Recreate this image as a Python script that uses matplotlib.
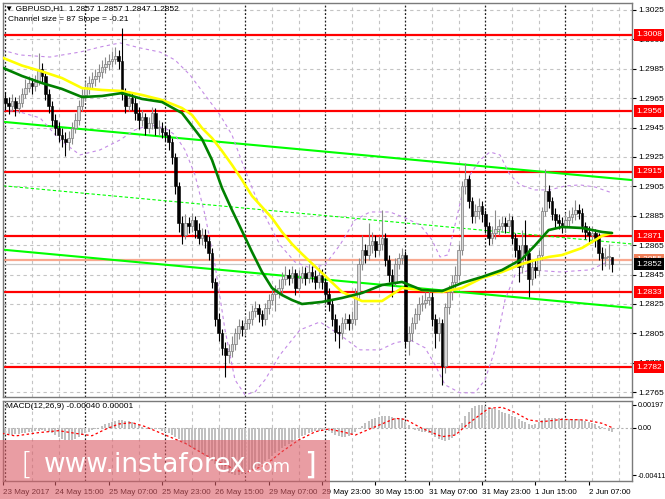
import numpy as np
import matplotlib
matplotlib.use("Agg")
import matplotlib.pyplot as plt
import matplotlib.transforms as mtrans
from matplotlib.patches import Rectangle

# ---------------- data ----------------
symbol_title = "\u25bc GBPUSD,H1  1.2857 1.2857 1.2847 1.2852"
channel_text = "Channel size = 87 Slope = -0.21"
macd_text = "MACD(12,26,9) -0.00040 0.00001"

open_first = 1.2960
close = [1.2965, 1.2962, 1.2960, 1.2963, 1.2958, 1.2962, 1.2968, 1.2972, 1.2975, 1.2973,
         1.2976, 1.2985, 1.2980, 1.2968, 1.2960, 1.2950, 1.2945, 1.2940, 1.2937, 1.2935,
         1.2938, 1.2945, 1.2950, 1.2960, 1.2967, 1.2972, 1.2975, 1.2978, 1.2980, 1.2983,
         1.2986, 1.2988, 1.2990, 1.2992, 1.2994, 1.2990, 1.2968, 1.2960, 1.2965, 1.2962,
         1.2955, 1.2950, 1.2952, 1.2945, 1.2948, 1.2955, 1.2945, 1.2945, 1.2942, 1.2940,
         1.2935, 1.2925, 1.2905, 1.2880, 1.2872, 1.2880, 1.2878, 1.2882, 1.2875, 1.2870,
         1.2872, 1.2868, 1.2860, 1.2840, 1.2815, 1.2805, 1.2795, 1.2790, 1.2793, 1.2798,
         1.2805, 1.2810, 1.2808, 1.2812, 1.2815, 1.2820, 1.2822, 1.2818, 1.2815, 1.2822,
         1.2828, 1.2832, 1.2833, 1.2836, 1.2842, 1.2845, 1.2843, 1.2846, 1.2836, 1.2843,
         1.2846, 1.2843, 1.2847, 1.2844, 1.2840, 1.2845, 1.2840, 1.2832, 1.2825, 1.2815,
         1.2806, 1.2805, 1.2812, 1.2815, 1.2812, 1.2815, 1.2832, 1.2852, 1.2862, 1.2858,
         1.2865, 1.2868, 1.2862, 1.2866, 1.2870, 1.2855, 1.2845, 1.2840, 1.2852, 1.2856,
         1.2858, 1.2800, 1.2805, 1.2812, 1.2818, 1.2825, 1.2826, 1.2828, 1.2830, 1.2815,
         1.2805, 1.2812, 1.2783, 1.2823, 1.2833, 1.2840, 1.2845, 1.2862, 1.2905, 1.2910,
         1.2895, 1.2885, 1.2888, 1.2892, 1.2886, 1.2878, 1.2870, 1.2873, 1.2876, 1.2878,
         1.2880, 1.2878, 1.2882, 1.2870, 1.2862, 1.2850, 1.2865, 1.2860, 1.2842, 1.2850,
         1.2848, 1.2858, 1.2888, 1.2902, 1.2895, 1.2886, 1.2882, 1.2880, 1.2878, 1.2882,
         1.2884, 1.2886, 1.2889, 1.2887, 1.2878, 1.2874, 1.2872, 1.2873, 1.2870, 1.2860,
         1.2856, 1.2857, 1.2857, 1.2852]
high = [1.2970, 1.2969, 1.2966, 1.2968, 1.2966, 1.2967, 1.2972, 1.2978, 1.2980, 1.2979,
        1.2981, 1.2996, 1.2989, 1.2983, 1.2971, 1.2963, 1.2954, 1.2949, 1.2945, 1.2942,
        1.2943, 1.2949, 1.2955, 1.2964, 1.2971, 1.2977, 1.2980, 1.2983, 1.2985, 1.2988,
        1.2991, 1.2993, 1.2995, 1.2997, 1.3000, 1.2998, 1.3013, 1.2972, 1.2970, 1.2969,
        1.2966, 1.2959, 1.2957, 1.2955, 1.2952, 1.2959, 1.2958, 1.2950, 1.2949, 1.2946,
        1.2944, 1.2938, 1.2928, 1.2908, 1.2885, 1.2886, 1.2884, 1.2887, 1.2885, 1.2880,
        1.2877, 1.2876, 1.2871, 1.2863, 1.2843, 1.2819, 1.2808, 1.2799, 1.2798, 1.2803,
        1.2809, 1.2815, 1.2814, 1.2817, 1.2820, 1.2824, 1.2827, 1.2825, 1.2821, 1.2826,
        1.2832, 1.2837, 1.2838, 1.2842, 1.2847, 1.2851, 1.2849, 1.2851, 1.2849, 1.2848,
        1.2851, 1.2850, 1.2852, 1.2851, 1.2848, 1.2850, 1.2849, 1.2843, 1.2836, 1.2828,
        1.2818, 1.2811, 1.2816, 1.2819, 1.2818, 1.2820, 1.2836, 1.2856, 1.2872, 1.2866,
        1.2880, 1.2874, 1.2872, 1.2871, 1.2889, 1.2873, 1.2858, 1.2849, 1.2856, 1.2860,
        1.2863, 1.2861, 1.2810, 1.2816, 1.2822, 1.2830, 1.2831, 1.2833, 1.2835, 1.2833,
        1.2818, 1.2816, 1.2815, 1.2826, 1.2838, 1.2845, 1.2851, 1.2866, 1.2909, 1.2921,
        1.2913, 1.2898, 1.2893, 1.2897, 1.2895, 1.2889, 1.2881, 1.2878, 1.2889, 1.2883,
        1.2885, 1.2884, 1.2887, 1.2885, 1.2873, 1.2865, 1.2875, 1.2882, 1.2863, 1.2854,
        1.2855, 1.2862, 1.2891, 1.2917, 1.2906, 1.2898, 1.2890, 1.2886, 1.2884, 1.2887,
        1.2889, 1.2891, 1.2896, 1.2893, 1.2890, 1.2881, 1.2878, 1.2878, 1.2876, 1.2873,
        1.2864, 1.2863, 1.2866, 1.2857]
low = [1.2955, 1.2957, 1.2954, 1.2956, 1.2953, 1.2955, 1.2959, 1.2965, 1.2969, 1.2968,
       1.2970, 1.2974, 1.2976, 1.2964, 1.2955, 1.2946, 1.2940, 1.2935, 1.2932, 1.2926,
       1.2930, 1.2934, 1.2941, 1.2947, 1.2956, 1.2963, 1.2968, 1.2971, 1.2973, 1.2976,
       1.2979, 1.2982, 1.2984, 1.2986, 1.2988, 1.2985, 1.2964, 1.2955, 1.2956, 1.2957,
       1.2950, 1.2944, 1.2946, 1.2940, 1.2941, 1.2944, 1.2940, 1.2940, 1.2938, 1.2936,
       1.2930, 1.2920, 1.2900, 1.2874, 1.2866, 1.2869, 1.2873, 1.2874, 1.2870, 1.2866,
       1.2865, 1.2863, 1.2855, 1.2836, 1.2810, 1.2800, 1.2790, 1.2775, 1.2785, 1.2789,
       1.2794, 1.2801, 1.2803, 1.2804, 1.2808, 1.2811, 1.2816, 1.2813, 1.2810, 1.2811,
       1.2818, 1.2824, 1.2820, 1.2829, 1.2832, 1.2838, 1.2838, 1.2839, 1.2831, 1.2833,
       1.2839, 1.2838, 1.2839, 1.2840, 1.2835, 1.2836, 1.2835, 1.2827, 1.2820, 1.2810,
       1.2800, 1.2795, 1.2801, 1.2808, 1.2807, 1.2808, 1.2811, 1.2828, 1.2848, 1.2853,
       1.2855, 1.2860, 1.2857, 1.2858, 1.2862, 1.2851, 1.2840, 1.2830, 1.2837, 1.2849,
       1.2852, 1.2796, 1.2790, 1.2800, 1.2808, 1.2814, 1.2820, 1.2822, 1.2824, 1.2810,
       1.2795, 1.2800, 1.2770, 1.2778, 1.2818, 1.2828, 1.2836, 1.2841, 1.2858, 1.2900,
       1.2890, 1.2880, 1.2880, 1.2883, 1.2881, 1.2873, 1.2865, 1.2866, 1.2869, 1.2872,
       1.2874, 1.2873, 1.2874, 1.2866, 1.2857, 1.2840, 1.2846, 1.2855, 1.2830, 1.2838,
       1.2843, 1.2845, 1.2855, 1.2885, 1.2890, 1.2882, 1.2877, 1.2876, 1.2873, 1.2874,
       1.2878, 1.2880, 1.2882, 1.2883, 1.2874, 1.2869, 1.2867, 1.2867, 1.2864, 1.2855,
       1.2848, 1.2851, 1.2849, 1.2847]

# moving averages (bar index -> price)
ma_bars = [0, 6, 12, 18, 24, 30, 36, 42, 48, 54, 57, 60, 63, 66, 69, 72, 75, 78, 81, 84,
           87, 90, 96, 102, 108, 114, 120, 126, 132, 138, 144, 150, 156, 160, 164, 168,
           174, 180, 183]
ma_green = [1.29859, 1.29801, 1.29753, 1.29713, 1.29658, 1.29665, 1.29685, 1.29645, 1.29624,
            1.29549, 1.29461, 1.29372, 1.29230, 1.29039, 1.28889, 1.28747, 1.28604, 1.28468,
            1.28359, 1.28311, 1.28277, 1.28250, 1.28264, 1.28291, 1.28325, 1.28379, 1.28400,
            1.28345, 1.28338, 1.28393, 1.28434, 1.28481, 1.28556, 1.28651, 1.28753, 1.28774,
            1.28767, 1.28740, 1.28733]
ma_yellow = [1.29927, 1.29872, 1.29832, 1.29787, 1.29719, 1.29706, 1.29699, 1.29672, 1.29638,
             1.29583, 1.29536, 1.29447, 1.29379, 1.29291, 1.29196, 1.29094, 1.28985, 1.28910,
             1.28835, 1.28740, 1.28658, 1.28590, 1.28461, 1.28332, 1.28270, 1.28270, 1.28359,
             1.28345, 1.28332, 1.28359, 1.28427, 1.28468, 1.28522, 1.28549, 1.28570, 1.28583,
             1.28631, 1.28713, 1.28733]

# Bollinger-type envelopes
bb_upper_bars = [0, 5.4, 14.4, 23.4, 29.4, 35.4, 41.4, 47.4, 51.9, 56.4, 60.9, 65.4, 69,
                 72.9, 75.9, 79.5, 83.4, 87.9, 92.4, 96.9, 101.4, 105.9, 110.4, 116.4,
                 120.9, 125.4, 129, 131.4, 133.8, 135.9, 138, 140.4, 143.4, 146.4, 149.4,
                 152.4, 155.4, 159.9, 164.4, 168.9, 173.4, 177.9, 183]
bb_upper = [1.29978, 1.29944, 1.29930, 1.29964, 1.29998, 1.30026, 1.29992, 1.29964, 1.29910,
            1.29808, 1.29672, 1.29536, 1.29400, 1.29162, 1.28992, 1.28822, 1.28652, 1.28536,
            1.28496, 1.28516, 1.28652, 1.28822, 1.28876, 1.28876, 1.28836, 1.28788, 1.28686,
            1.28570, 1.28584, 1.28788, 1.28992, 1.29128, 1.29230, 1.29284, 1.29264, 1.29128,
            1.29060, 1.29026, 1.29026, 1.29053, 1.29060, 1.29046, 1.29006]
bb_lower_bars = [0, 5.4, 11.4, 17.4, 23.4, 29.4, 35.4, 39.9, 44.4, 48.9, 51.9, 54.9, 57.9,
                 60.9, 63.9, 66.9, 69.9, 72.9, 75.9, 78.9, 83.4, 89.4, 95.4, 101.4, 107.4,
                 113.4, 117.9, 122.4, 126.9, 129.9, 132.9, 137.4, 141.9, 144.9, 147.9, 150.9,
                 153.9, 158.4, 167.4, 176.4, 183]
bb_lower = [1.29570, 1.29556, 1.29516, 1.29366, 1.29264, 1.29298, 1.29366, 1.29434, 1.29468,
            1.29448, 1.29400, 1.29298, 1.29128, 1.28856, 1.28516, 1.28074, 1.27734, 1.27632,
            1.27652, 1.27734, 1.27904, 1.28074, 1.28128, 1.28040, 1.27938, 1.27938, 1.27986,
            1.28006, 1.27952, 1.27836, 1.27700, 1.27646, 1.27646, 1.27734, 1.27938, 1.28278,
            1.28448, 1.28482, 1.28468, 1.28482, 1.28550]

# MACD(12,26,9) histogram (one value per bar) and signal line
macd_main = [-0.00050, -0.00055, -0.00058, -0.00060, -0.00058, -0.00055, -0.00050, -0.00045, -0.00040,
             -0.00035, -0.00030, -0.00025, -0.00022, -0.00025, -0.00035, -0.00050, -0.00065, -0.00080,
             -0.00095, -0.00105, -0.00110, -0.00105, -0.00095, -0.00080,
             -0.00065, -0.00050, -0.00035, -0.00022, -0.00010, 0.00000,
             0.00015, 0.00030, 0.00042, 0.00052, 0.00060, 0.00066, 0.00068, 0.00062, 0.00055, 0.00045, 0.00035, 0.00022,
             0.00010, 0.00000, -0.00008, -0.00012, -0.00010, -0.00015, -0.00025,
             -0.00035, -0.00045, -0.00060, -0.00080, -0.00100, -0.00120,
             -0.00140, -0.00160, -0.00180, -0.00195, -0.00210, -0.00225,
             -0.00245, -0.00265, -0.00290, -0.00315, -0.00340, -0.00360, -0.00380, -0.00395, -0.00405, -0.00411,
             -0.00408, -0.00400, -0.00390, -0.00378, -0.00365, -0.00350, -0.00332, -0.00312, -0.00290,
             -0.00268, -0.00245, -0.00222, -0.00200, -0.00180, -0.00160, -0.00140, -0.00122, -0.00105, -0.00090,
             -0.00075, -0.00062, -0.00050, -0.00040, -0.00032, -0.00025, -0.00020, -0.00022, -0.00030,
             -0.00045, -0.00060, -0.00072, -0.00078, -0.00078, -0.00072, -0.00060, -0.00040, -0.00015,
             0.00015, 0.00040, 0.00060, 0.00075, 0.00085, 0.00092, 0.00098, 0.00100, 0.00098, 0.00092, 0.00088, 0.00085,
             0.00080, 0.00050, 0.00020, -0.00005, -0.00020, -0.00030, -0.00035, -0.00040, -0.00045,
             -0.00060, -0.00080, -0.00095, -0.00110, -0.00115, -0.00105, -0.00090, -0.00065, -0.00030,
             0.00040, 0.00100, 0.00140, 0.00170, 0.00190, 0.00197, 0.00195,
             0.00188, 0.00180, 0.00170, 0.00160, 0.00150, 0.00140, 0.00128, 0.00118, 0.00105, 0.00090, 0.00075, 0.00060, 0.00045, 0.00030,
             0.00025, 0.00030, 0.00045, 0.00065,
             0.00080, 0.00085, 0.00085, 0.00082, 0.00080, 0.00080, 0.00078, 0.00078, 0.00076, 0.00075, 0.00072, 0.00065, 0.00058, 0.00050,
             0.00040, 0.00030, 0.00018, 0.00005, -0.00010, -0.00025, -0.00040]
signal_bars = [0, 4, 11, 17, 22, 27, 31, 35, 39, 43, 49, 55, 61, 67, 71, 74, 79, 84, 89, 94,
               98, 102, 106, 112, 118, 121, 126, 132, 136, 140, 146, 150, 154, 158, 162, 168,
               175, 180, 183]
signal_vals = [-0.00049, -0.00072, -0.00043, -0.00026, -0.00049, -0.00070, -0.00014, 0.00032,
               0.00044, 0.00009, -0.00064, -0.00136, -0.00237, -0.00324, -0.00376, -0.00382,
               -0.00324, -0.00208, -0.00107, -0.00035, -0.00012, -0.00035, -0.00064, 0.00009,
               0.00081, 0.00072, -0.00006, -0.00078, -0.00064, 0.00038, 0.00168, 0.00177,
               0.00131, 0.00067, 0.00052, 0.00072, 0.00067, 0.00038, 0.00001]

levels_red = [1.3008, 1.2956, 1.2915, 1.2871, 1.2833, 1.2782]
level_salmon = 1.2855
bid_price = 1.2852

channel_start = 1.2949       # upper channel line at bar 0
channel_slope_pips = -0.21   # pips per bar
channel_size_pips = 87

price_ticks = [1.2765, 1.2785, 1.2805, 1.2825, 1.2845, 1.2865, 1.2885, 1.2905, 1.2925,
               1.2945, 1.2965, 1.2985, 1.3005, 1.3025]
macd_ticks = [0.00197, 0.0, -0.00411]
macd_tick_labels = ["0.00197", "0.00", "-0.00411"]

time_label_bars = [0.3, 16, 32, 48, 64, 80, 96, 112, 128, 144, 160, 176]
time_labels = ["23 May 2017", "24 May 15:00", "25 May 07:00", "25 May 23:00", "26 May 15:00",
               "29 May 07:00", "29 May 23:00", "30 May 15:00", "31 May 07:00", "31 May 23:00",
               "1 Jun 15:00", "2 Jun 07:00"]
day_start_bars = [1, 25, 49, 73, 97, 121, 145, 169]
grid_bars = [9, 17, 33, 41, 57, 65, 81, 89, 105, 113, 129, 137, 153, 161, 177, 185]

# ---------------- figure ----------------
W, H = 665, 499
fig = plt.figure(figsize=(W / 100, H / 100), dpi=100)
fig.patch.set_facecolor("white")
FONT = ["Liberation Sans", "DejaVu Sans"]
FS = 6.0
FS_DATE = 5.8
FS_MACD = 5.2


def px_axes(l, t, r, b):
    return fig.add_axes([l / W, 1 - b / H, (r - l) / W, (b - t) / H])


ax = px_axes(3, 3, 632, 397)
ax2 = px_axes(3, 400.5, 632, 481)
XL = (0.3, 189.0)

for a in (ax, ax2):
    a.set_xlim(*XL)
    a.set_facecolor("white")
    for s in a.spines.values():
        s.set_color("#7a7a7a")
        s.set_linewidth(1.0)
    for gb in grid_bars:
        a.axvline(gb, color="#c4c4c4", lw=0.8, ls=(0, (3, 3)), zorder=0.5)
    for db in day_start_bars:
        a.axvline(db, color="#202020", lw=0.9, ls=(0, (1.5, 1.5)), zorder=0.6)

ax.set_ylim(1.276173, 1.302976)
for p in price_ticks:
    ax.axhline(p, color="#c4c4c4", lw=0.8, ls=(0, (3, 3)), zorder=0.5)

# candles
n = len(close)
xb = np.arange(n)
c = np.array(close)
o = np.concatenate([[open_first], c[:-1]])
hi = np.array(high)
lo = np.array(low)
up = c >= o
bot = np.minimum(o, c)
hgt = np.maximum(np.abs(c - o), 0.00005)
ax.vlines(xb[up], lo[up], hi[up], colors="#8a8a8a", lw=0.8, zorder=3)
ax.vlines(xb[~up], lo[~up], hi[~up], colors="black", lw=0.8, zorder=3)
ax.bar(xb[up], hgt[up], bottom=bot[up], width=0.72, color="#d8d8d8",
       edgecolor="#7a7a7a", linewidth=0.5, zorder=4)
ax.bar(xb[~up], hgt[~up], bottom=bot[~up], width=0.72, color="black",
       edgecolor="black", linewidth=0.4, zorder=4)

# horizontal levels
for lv in levels_red:
    ax.axhline(lv, color="#ff0000", lw=1.6, zorder=2)
ax.axhline(level_salmon, color="#f9a88f", lw=1.6, zorder=2)
ax.axhline(bid_price, color="#c8c8c8", lw=0.9, zorder=2)

# regression channel
cx = np.array(XL)
top_line = channel_start + channel_slope_pips * 0.0001 * cx
ax.plot(cx, top_line, color="#00ff00", lw=1.5, zorder=2.2)
ax.plot(cx, top_line - channel_size_pips * 0.0001 / 2, color="#00ff00", lw=0.8,
        ls=(0, (3, 2)), zorder=2.2)
ax.plot(cx, top_line - channel_size_pips * 0.0001, color="#00ff00", lw=1.5, zorder=2.2)

# envelopes
ax.plot(bb_upper_bars, bb_upper, color="#c48be6", lw=0.8, ls=(0, (3, 3)), zorder=2.5)
ax.plot(bb_lower_bars, bb_lower, color="#c48be6", lw=0.8, ls=(0, (3, 3)), zorder=2.5)

# moving averages
ax.plot(ma_bars, ma_yellow, color="#ffff00", lw=1.9, zorder=5, solid_capstyle="round")
ax.plot(ma_bars, ma_green, color="#008000", lw=1.9, zorder=5.1, solid_capstyle="round")

# right price axis
ax.yaxis.tick_right()
ax.set_yticks(price_ticks)
ax.set_yticklabels([f"{p:.4f}" for p in price_ticks], fontfamily=FONT)
ax.tick_params(axis="y", length=3, width=0.8, pad=1.5, labelsize=FS, colors="black")
ax.set_xticks([])

tr = mtrans.blended_transform_factory(ax.transAxes, ax.transData)
lab_kw = dict(transform=tr, color="white", fontsize=FS, fontfamily=FONT, va="center",
              ha="left", clip_on=False)
for lv in levels_red:
    ax.text(1.0065, lv, f"{lv:.4f}", zorder=10,
            bbox=dict(boxstyle="square,pad=0.3", fc="#ff0000", ec="none"), **lab_kw)
ax.text(1.0065, level_salmon, f"{level_salmon:.4f}", zorder=10,
        bbox=dict(boxstyle="square,pad=0.3", fc="#f0805a", ec="none"), **lab_kw)
ax.text(1.0065, bid_price, f"{bid_price:.4f}", zorder=11,
        bbox=dict(boxstyle="square,pad=0.3", fc="black", ec="none"), **lab_kw)

# MACD panel
ax2.set_ylim(-0.00463, 0.00236)
ax2.axhline(0, color="#b0b0b0", lw=0.8, ls=(0, (2, 2)), zorder=0.7)
ax2.bar(np.arange(len(macd_main)), macd_main, width=0.62, color="#c0c0c0", zorder=2)
ax2.plot(signal_bars, signal_vals, color="#ff0000", lw=0.9, ls=(0, (2, 2)), zorder=3)
ax2.yaxis.tick_right()
ax2.set_yticks(macd_ticks)
ax2.set_yticklabels(macd_tick_labels, fontfamily=FONT)
ax2.tick_params(axis="y", length=3, width=0.8, pad=1.0, labelsize=FS_MACD, colors="black")
ax2.set_xticks(time_label_bars)
ax2.set_xticklabels(time_labels, fontfamily=FONT)
ax2.tick_params(axis="x", length=3, width=0.8, pad=3, labelsize=FS_DATE, colors="black")
for lbl in ax2.get_xticklabels():
    lbl.set_ha("left")

# header texts
fig.text(5 / W, 1 - 8.5 / H, symbol_title, fontsize=FS, fontfamily=FONT,
         va="center", ha="left", color="black")
fig.text(8 / W, 1 - 19.5 / H, channel_text, fontsize=FS, fontfamily=FONT,
         va="center", ha="left", color="black")
fig.text(6 / W, 1 - 407 / H, macd_text, fontsize=FS, fontfamily=FONT,
         va="center", ha="left", color="black", zorder=5)

# watermark
fig.patches.append(Rectangle((0, 0), 330 / W, 59 / H, transform=fig.transFigure,
                             facecolor=(0.86, 0.36, 0.40), alpha=0.6, edgecolor="none",
                             zorder=5))
fig.text(20 / W, 1 - 474 / H, "[", fontsize=22, color="white", va="baseline", ha="left",
         fontfamily="DejaVu Sans", fontweight="light", zorder=6)
fig.text(44 / W, 1 - 472 / H, "www.instaforex", fontsize=19, color="white", va="baseline",
         ha="left", fontfamily="DejaVu Sans", zorder=6)
fig.text(246 / W, 1 - 472 / H, ".com", fontsize=13, color="white", va="baseline",
         ha="left", fontfamily="DejaVu Sans", zorder=6)
fig.text(304 / W, 1 - 474 / H, "]", fontsize=22, color="white", va="baseline", ha="left",
         fontfamily="DejaVu Sans", zorder=6)

fig.savefig("out.png", dpi=100)
